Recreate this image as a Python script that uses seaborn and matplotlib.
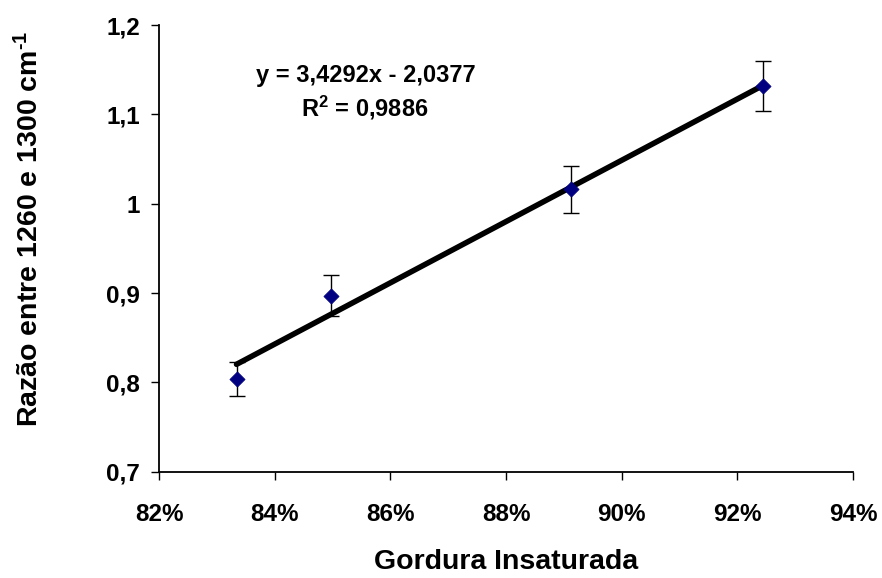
import matplotlib
matplotlib.use("Agg")
import matplotlib.pyplot as plt
from matplotlib.ticker import FuncFormatter
import numpy as np
import pandas as pd
import seaborn as sns

# Unsaturated fat fraction and band ratio (1260 / 1300 cm-1), with std. deviation
gordura = [0.8334, 0.8497, 0.8913, 0.9244]
razao = [0.804, 0.897, 1.016, 1.132]
desvio = [0.019, 0.023, 0.026, 0.028]

# Linear trend coefficients and fit quality
inclinacao = 3.4292
intercepto = -2.0377
r2 = 0.9886

x_ticks = [0.82, 0.84, 0.86, 0.88, 0.90, 0.92, 0.94]
y_ticks = [0.7, 0.8, 0.9, 1.0, 1.1, 1.2]

sns.set_theme(style="ticks")
plt.rcParams["font.family"] = ["Liberation Sans", "DejaVu Sans"]
plt.rcParams["font.weight"] = "bold"
plt.rcParams["mathtext.fontset"] = "custom"
plt.rcParams["mathtext.rm"] = "Liberation Sans:bold"
plt.rcParams["mathtext.bf"] = "Liberation Sans:bold"
plt.rcParams["mathtext.it"] = "Liberation Sans:bold"
plt.rcParams["mathtext.default"] = "bf"

df = pd.DataFrame({"gordura": gordura, "razao": razao, "desvio": desvio})
x_fit = np.array([min(gordura), max(gordura)])
trend = pd.DataFrame({"gordura": x_fit, "razao": inclinacao * x_fit + intercepto})

fig = plt.figure(figsize=(8.82, 5.78), dpi=100)
ax = fig.add_axes([0.1803, 0.1839, 0.7868, 0.7728])

ax.errorbar(df["gordura"], df["razao"], yerr=df["desvio"], fmt="none",
            ecolor="black", elinewidth=1.0, capsize=5.5, capthick=1.0, zorder=2)
sns.lineplot(data=trend, x="gordura", y="razao", color="black", linewidth=4.0,
             ax=ax, zorder=3)
sns.scatterplot(data=df, x="gordura", y="razao", marker="D", s=60,
                color="#000080", edgecolor="#000080", linewidth=0.5, ax=ax, zorder=4)

ax.set_xlim(0.82, 0.94)
ax.set_ylim(0.7, 1.2)
ax.set_xticks(x_ticks)
ax.set_yticks(y_ticks)
ax.xaxis.set_major_formatter(FuncFormatter(lambda v, p: f"{round(v * 100):d}%"))
ax.yaxis.set_major_formatter(FuncFormatter(lambda v, p: f"{v:g}".replace(".", ",")))
ax.tick_params(axis="both", direction="out", length=5.5, width=1.0, color="black",
               labelsize=17.5, labelcolor="black")
ax.tick_params(axis="x", pad=17)
ax.tick_params(axis="y", pad=8)
for lab in ax.get_xticklabels() + ax.get_yticklabels():
    lab.set_fontweight("bold")

for side in ["top", "right"]:
    ax.spines[side].set_visible(False)
for side in ["left", "bottom"]:
    ax.spines[side].set_color("black")
    ax.spines[side].set_linewidth(1.3)

ax.set_xlabel("Gordura Insaturada", fontsize=20.5, fontweight="bold", color="black")
ax.set_ylabel(r"Razão entre 1260 e 1300 cm$^{\text{-1}}$", fontsize=20.5,
              fontweight="bold", color="black")
ax.xaxis.set_label_coords(0.5, -0.2185)
ax.xaxis.label.set_va("baseline")
ax.yaxis.set_label_coords(-0.186, 0.545)
ax.yaxis.label.set_va("center")

eq = f"y = {inclinacao:.4f}x - {abs(intercepto):.4f}".replace(".", ",")
r2_txt = "R$^{2}$ = " + f"{r2:.4f}".replace(".", ",")
ax.text(0.298, 0.873, eq, transform=ax.transAxes, ha="center", va="baseline",
        fontsize=17, fontweight="bold", color="black")
ax.text(0.296, 0.795, r2_txt, transform=ax.transAxes, ha="center", va="baseline",
        fontsize=17, fontweight="bold", color="black")

fig.patch.set_facecolor("white")
ax.set_facecolor("white")
fig.savefig("out.png", dpi=100, facecolor="white")
